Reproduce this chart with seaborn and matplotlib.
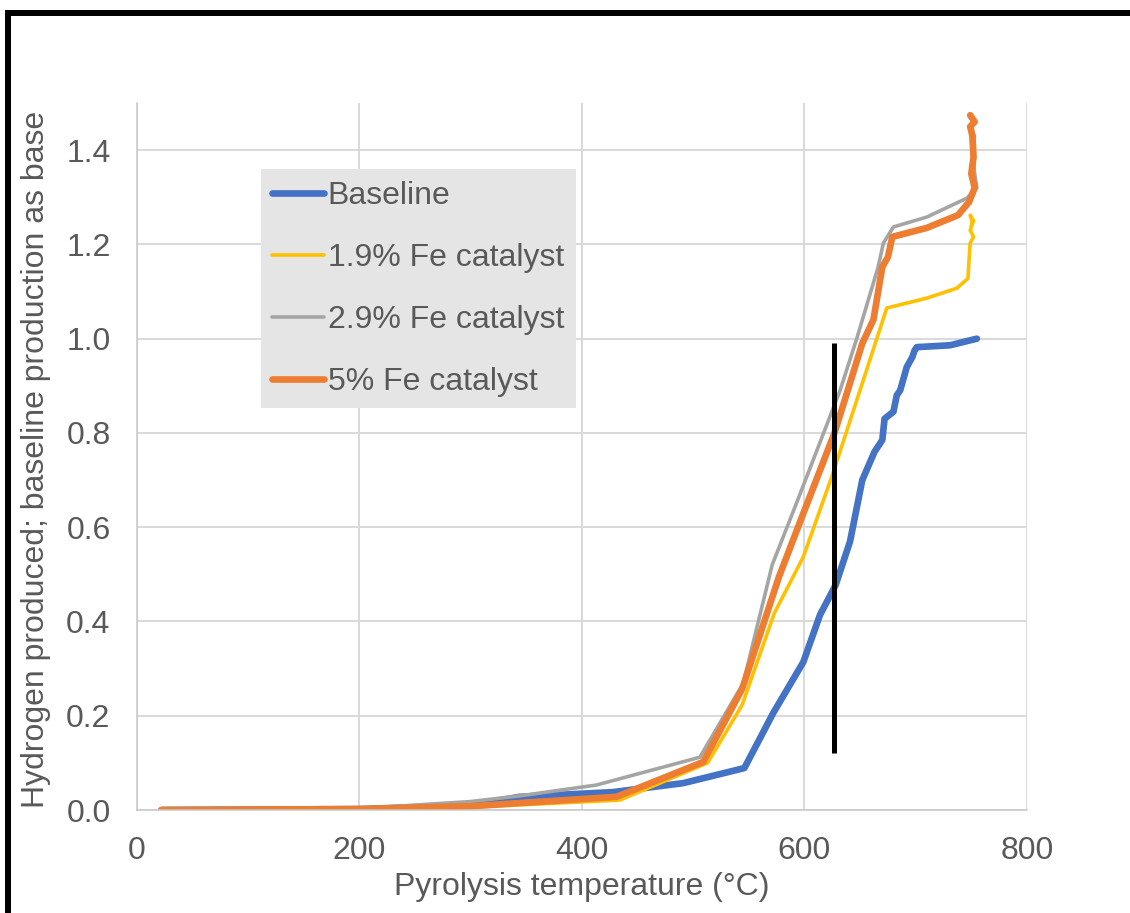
import matplotlib
matplotlib.use("Agg")
import matplotlib.pyplot as plt
from matplotlib.lines import Line2D
import seaborn as sns

# Hydrogen yield curves (temperature in °C, yield relative to baseline total)
baseline_temp = [22, 200, 300, 344, 428, 491, 546, 572, 599, 614, 628, 641, 652,
                 663, 670, 672, 680, 683, 686, 692, 697, 699, 701, 731, 755]
baseline_h2 = [0.0, 0.002, 0.01, 0.028, 0.038, 0.057, 0.089, 0.206, 0.314, 0.414,
               0.477, 0.57, 0.70, 0.76, 0.785, 0.83, 0.845, 0.88, 0.89, 0.94,
               0.961, 0.975, 0.982, 0.986, 1.0]

fe19_temp = [22, 200, 300, 434, 513, 544, 573, 599, 625, 650, 674, 710, 737, 747,
             748, 749, 752, 749, 751, 749, 752, 750]
fe19_h2 = [0.0, 0.001, 0.006, 0.021, 0.10, 0.223, 0.418, 0.537, 0.71, 0.891, 1.065,
           1.086, 1.107, 1.128, 1.17, 1.203, 1.216, 1.23, 1.245, 1.262, 1.25, 1.24]

fe29_temp = [22, 200, 300, 344, 413, 506, 545, 571, 594, 632, 647, 666, 671, 680,
             710, 746, 755, 753, 750, 753]
fe29_h2 = [0.0, 0.003, 0.018, 0.03, 0.053, 0.112, 0.269, 0.52, 0.658, 0.89, 1.0,
           1.15, 1.203, 1.237, 1.258, 1.298, 1.32, 1.35, 1.42, 1.43]

fe5_temp = [22, 200, 300, 431, 509, 544, 577, 596, 627, 641, 652, 662, 670, 675,
            679, 710, 738, 748, 753, 750, 752, 751, 749, 753, 749]
fe5_h2 = [0.0, 0.002, 0.008, 0.028, 0.102, 0.257, 0.494, 0.611, 0.80, 0.906, 0.99,
          1.04, 1.152, 1.173, 1.216, 1.235, 1.262, 1.29, 1.32, 1.35, 1.385, 1.43,
          1.45, 1.46, 1.474]

series_labels = ["Baseline", "1.9% Fe catalyst", "2.9% Fe catalyst", "5% Fe catalyst"]
series_colors = ["#4472C4", "#FFC000", "#A5A5A5", "#ED7D31"]
series_widths = [4.8, 2.6, 2.6, 4.8]

# Reference temperature marker
marker_temp = [627, 627]
marker_range = [0.12, 0.99]

x_ticks = [0, 200, 400, 600, 800]
y_ticks = [0.0, 0.2, 0.4, 0.6, 0.8, 1.0, 1.2, 1.4]

sns.set_style("white")
plt.rcParams["font.family"] = ["Liberation Sans", "DejaVu Sans"]
text_color = "#595959"
fs = 23

fig = plt.figure(figsize=(11.3, 9.13), dpi=100)
ax = fig.add_axes([0.1212, 0.1128, 0.7876, 0.7744])

all_series = [(baseline_temp, baseline_h2), (fe19_temp, fe19_h2),
              (fe29_temp, fe29_h2), (fe5_temp, fe5_h2)]
for (t, h), lab, col, lw in zip(all_series, series_labels, series_colors, series_widths):
    sns.lineplot(x=t, y=h, sort=False, estimator=None, ax=ax, color=col,
                 linewidth=lw, label=lab, solid_capstyle="round",
                 solid_joinstyle="round")

sns.lineplot(x=marker_temp, y=marker_range, sort=False, estimator=None, ax=ax,
             color="black", linewidth=3.6, solid_capstyle="butt")

ax.set_xlim(0, 800)
ax.set_ylim(0, 1.5)
ax.set_xticks(x_ticks)
ax.set_yticks(y_ticks)
ax.set_xticklabels([f"{v:d}" for v in x_ticks])
ax.set_yticklabels([f"{v:.1f}" for v in y_ticks])
ax.tick_params(length=0, labelsize=fs, labelcolor=text_color, pad=19)

ax.grid(True, color="#D9D9D9", linewidth=1.4)
ax.set_axisbelow(True)
for side in ["top", "right"]:
    ax.spines[side].set_visible(False)
for side in ["left", "bottom"]:
    ax.spines[side].set_color("#C8C8C8")
    ax.spines[side].set_linewidth(1.1)

ax.set_xlabel("Pyrolysis temperature (°C)", fontsize=fs, color=text_color)
ax.set_ylabel("Hydrogen produced; baseline production as base", fontsize=fs,
              color=text_color)
ax.xaxis.set_label_coords(0.5, -0.087)
ax.yaxis.set_label_coords(-0.0966, 0.4965)

leg = ax.legend(loc="upper left", bbox_to_anchor=(0.139, 0.906), borderaxespad=0,
                fontsize=fs, frameon=True, fancybox=False, framealpha=1,
                facecolor="#E5E5E5", edgecolor="none", handlelength=1.62,
                handletextpad=0.12, borderpad=0.36, labelspacing=1.0)
for txt in leg.get_texts():
    txt.set_color(text_color)

# Frame lines along the top and left of the figure
fig.add_artist(Line2D([5 / 1130, 1.0], [1 - 13 / 913, 1 - 13 / 913], color="black",
                      linewidth=4.3, solid_capstyle="butt", transform=fig.transFigure))
fig.add_artist(Line2D([7.5 / 1130, 7.5 / 1130], [0.0, 1 - 10 / 913], color="black",
                      linewidth=4.3, solid_capstyle="butt", transform=fig.transFigure))

fig.savefig("out.png", dpi=100)
